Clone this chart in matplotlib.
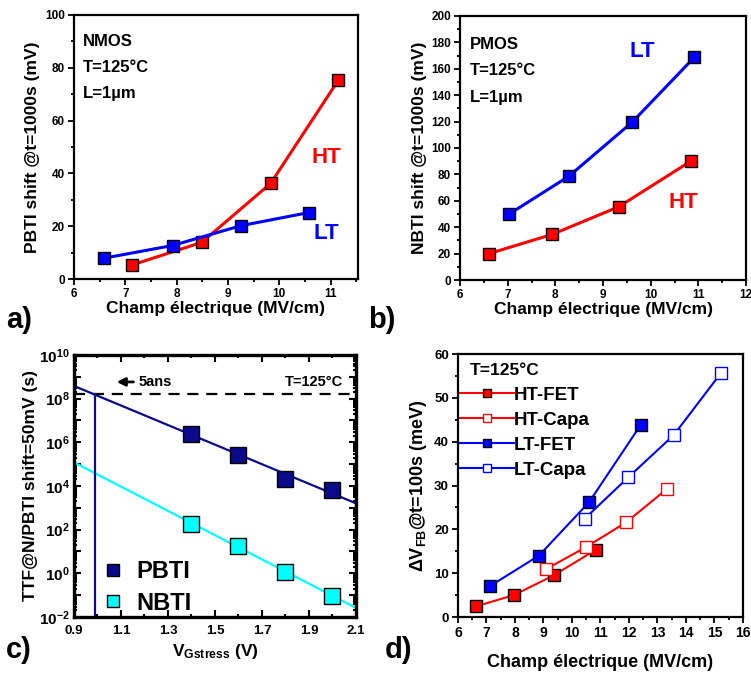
import numpy as np
import matplotlib
matplotlib.use('Agg')
import matplotlib.pyplot as plt
from matplotlib.lines import Line2D
from matplotlib.ticker import MultipleLocator, LogLocator, FuncFormatter, NullFormatter

plt.rcParams['font.family'] = ['Liberation Sans', 'DejaVu Sans']
plt.rcParams['font.weight'] = 'bold'
plt.rcParams['axes.labelweight'] = 'bold'
plt.rcParams['mathtext.fontset'] = 'custom'
plt.rcParams['mathtext.rm'] = 'Liberation Sans:bold'
plt.rcParams['mathtext.bf'] = 'Liberation Sans:bold'
plt.rcParams['mathtext.default'] = 'bf'

# a) NMOS PBTI shift
a_ht_x = [7.14, 8.49, 9.83, 11.15]
a_ht_y = [5.4, 13.9, 36.2, 75.3]
a_lt_x = [6.58, 7.92, 9.25, 10.58]
a_lt_y = [7.9, 12.7, 20.2, 25.2]

# b) PMOS NBTI shift
b_lt_x = [7.02, 8.28, 9.61, 10.91]
b_lt_y = [49.7, 78.5, 119.5, 168.5]
b_ht_x = [6.6, 7.93, 9.33, 10.84]
b_ht_y = [19.9, 34.5, 55.5, 90.0]

# c) TTF vs V_Gstress
c_v = [1.4, 1.6, 1.8, 2.0]
c_pbti = [2.3e6, 2.6e5, 2.0e4, 6.2e3]
c_nbti = [186, 17, 1.2, 0.095]
c_fit_v = [0.9, 2.1]
c_pbti_fit = [3.8e8, 1.6e3]
c_nbti_fit = [1.2e5, 0.026]
five_years = 1.58e8
v_5ans = 0.99

# d) delta VFB @ t=100s
d_htfet_x = [6.62, 7.96, 9.36, 10.85]
d_htfet_y = [2.4, 5.0, 9.5, 15.4]
d_htcapa_x = [9.08, 10.48, 11.9, 13.33]
d_htcapa_y = [10.9, 15.9, 21.6, 29.2]
d_ltfet_x = [7.11, 8.84, 10.6, 12.42]
d_ltfet_y = [7.0, 14.0, 26.2, 43.9]
d_ltcapa_x = [10.44, 11.98, 13.57, 15.22]
d_ltcapa_y = [22.4, 31.9, 41.5, 55.6]

RED = '#ff0000'
BLUE = '#0000ff'
NAVY = '#0a0a8a'
CYAN = '#00ffff'

fig = plt.figure(figsize=(7.51, 6.79), dpi=100)
ax_a = fig.add_axes([0.0985, 0.589, 0.378, 0.389])
ax_b = fig.add_axes([0.6125, 0.5876, 0.381, 0.389])
ax_c = fig.add_axes([0.0985, 0.0913, 0.3755, 0.386])
ax_d = fig.add_axes([0.6098, 0.0913, 0.3795, 0.3873])


def style_lin(ax):
    for s in ax.spines.values():
        s.set_linewidth(1.6)
    ax.tick_params(which='both', direction='out', width=1.3, labelsize=8.5,
                   top=False, right=False)
    ax.tick_params(which='major', length=4.5, pad=2)
    ax.tick_params(which='minor', length=2.5)
    for lab in ax.get_xticklabels() + ax.get_yticklabels():
        lab.set_fontweight('bold')


mk = dict(marker='s', markersize=8, markeredgecolor='black', markeredgewidth=1.0)

# ---- a)
ax_a.plot(a_ht_x, a_ht_y, color=RED, lw=2.2, markerfacecolor=RED, **mk)
ax_a.plot(a_lt_x, a_lt_y, color=BLUE, lw=2.2, markerfacecolor=BLUE, **mk)
ax_a.set_xlim(6, 11.53)
ax_a.set_ylim(0, 100)
ax_a.xaxis.set_major_locator(MultipleLocator(1))
ax_a.xaxis.set_minor_locator(MultipleLocator(0.5))
ax_a.yaxis.set_major_locator(MultipleLocator(20))
ax_a.yaxis.set_minor_locator(MultipleLocator(10))
style_lin(ax_a)
ax_a.set_xlabel('Champ électrique (MV/cm)', fontsize=12.5, labelpad=1)
ax_a.set_ylabel('PBTI shift @t=1000s (mV)', fontsize=12.5, labelpad=4)
for i, t in enumerate(['NMOS', 'T=125°C', 'L=1µm']):
    ax_a.text(0.03, 0.899 - 0.098 * i, t, transform=ax_a.transAxes,
              fontsize=12, fontweight='bold', va='center')
ax_a.text(10.92, 46, 'HT', color=RED, fontsize=16, fontweight='bold',
          ha='center', va='center')
ax_a.text(10.92, 17.4, 'LT', color=BLUE, fontsize=16, fontweight='bold',
          ha='center', va='center')

# ---- b)
ax_b.plot(b_lt_x, b_lt_y, color=BLUE, lw=2.2, markerfacecolor=BLUE, **mk)
ax_b.plot(b_ht_x, b_ht_y, color=RED, lw=2.2, markerfacecolor=RED, **mk)
ax_b.set_xlim(6, 12)
ax_b.set_ylim(0, 200)
ax_b.xaxis.set_major_locator(MultipleLocator(1))
ax_b.xaxis.set_minor_locator(MultipleLocator(0.5))
ax_b.yaxis.set_major_locator(MultipleLocator(20))
ax_b.yaxis.set_minor_locator(MultipleLocator(10))
style_lin(ax_b)
ax_b.set_xlabel('Champ électrique (MV/cm)', fontsize=12.5, labelpad=1)
ax_b.set_ylabel('NBTI shift @t=1000s (mV)', fontsize=12.5, labelpad=3)
for i, t in enumerate(['PMOS', 'T=125°C', 'L=1µm']):
    ax_b.text(0.035, 0.893 - 0.101 * i, t, transform=ax_b.transAxes,
              fontsize=12, fontweight='bold', va='center')
ax_b.text(9.82, 173, 'LT', color=BLUE, fontsize=16, fontweight='bold',
          ha='center', va='center')
ax_b.text(10.69, 59, 'HT', color=RED, fontsize=16, fontweight='bold',
          ha='center', va='center')

# ---- c)
ax_c.set_yscale('log')
ax_c.plot(c_fit_v, c_pbti_fit, color=NAVY, lw=1.6)
ax_c.plot(c_fit_v, c_nbti_fit, color=CYAN, lw=1.6)
ax_c.plot(c_v, c_pbti, ls='none', marker='s', markersize=12, markerfacecolor=NAVY,
          markeredgecolor='black', markeredgewidth=1.0, label='PBTI')
ax_c.plot(c_v, c_nbti, ls='none', marker='s', markersize=12, markerfacecolor=CYAN,
          markeredgecolor='black', markeredgewidth=1.0, label='NBTI')
ax_c.axhline(five_years, color='black', lw=1.6, ls=(0, (5, 3.5)))
ax_c.plot([v_5ans, v_5ans], [1e-2, five_years], color=NAVY, lw=1.6)
ax_c.annotate('', xy=(1.07, 5.8e8), xytext=(1.165, 5.8e8),
              arrowprops=dict(arrowstyle='-|>', color='black', lw=2,
                              mutation_scale=12))
ax_c.text(1.175, 5.8e8, '5ans', fontsize=10.5, fontweight='bold', va='center')
ax_c.text(0.955, 0.897, 'T=125°C', transform=ax_c.transAxes, fontsize=10.5,
          fontweight='bold', ha='right', va='center')
ax_c.set_xlim(0.9, 2.1)
ax_c.set_ylim(1e-2, 1e10)
ax_c.xaxis.set_minor_locator(MultipleLocator(0.1))
ax_c.set_xticks([0.9, 1.1, 1.3, 1.5, 1.7, 1.9, 2.1])
ax_c.yaxis.set_major_locator(LogLocator(base=10, numticks=30))
ax_c.yaxis.set_minor_locator(LogLocator(base=10, subs=np.arange(2, 10), numticks=30))
ax_c.yaxis.set_minor_formatter(NullFormatter())


def even_pow(v, pos):
    e = int(round(np.log10(v)))
    return r'$10^{%d}$' % e if e % 2 == 0 else ''


ax_c.yaxis.set_major_formatter(FuncFormatter(even_pow))
for s in ax_c.spines.values():
    s.set_linewidth(2.4)
ax_c.tick_params(which='both', direction='in', top=True, right=True,
                 width=1.5, pad=3)
ax_c.tick_params(axis='y', labelsize=11)
ax_c.tick_params(axis='x', labelsize=9.5, pad=6)
ax_c.tick_params(which='major', length=5)
ax_c.tick_params(which='minor', length=2.5)
for lab in ax_c.get_xticklabels():
    lab.set_fontweight('bold')
ax_c.set_xlabel(r'V$_{\mathrm{Gstress}}$ (V)', fontsize=12.5, labelpad=3)
ax_c.set_ylabel('TTF@N/PBTI shift=50mV (s)', fontsize=12.5, labelpad=1)
ax_c.legend(loc='center left', bbox_to_anchor=(0.105, 0.113), frameon=False,
            markerscale=0.75, handlelength=0.8, handletextpad=0.6,
            labelspacing=0.35, borderaxespad=0.0, borderpad=0.0,
            prop={'weight': 'bold', 'size': 17})

# ---- d)
mkd = dict(marker='s', markersize=8, markeredgewidth=1.0)
ax_d.plot(d_htfet_x, d_htfet_y, color=RED, lw=1.5, markerfacecolor=RED,
          markeredgecolor='black', label='HT-FET', **mkd)
ax_d.plot(d_htcapa_x, d_htcapa_y, color=RED, lw=1.5, markerfacecolor='white',
          markeredgecolor=RED, label='HT-Capa', **mkd)
ax_d.plot(d_ltfet_x, d_ltfet_y, color=BLUE, lw=1.5, markerfacecolor=BLUE,
          markeredgecolor='black', label='LT-FET', **mkd)
ax_d.plot(d_ltcapa_x, d_ltcapa_y, color=BLUE, lw=1.5, markerfacecolor='white',
          markeredgecolor=BLUE, label='LT-Capa', **mkd)
ax_d.set_xlim(6, 16)
ax_d.set_ylim(0, 60)
ax_d.xaxis.set_major_locator(MultipleLocator(1))
ax_d.xaxis.set_minor_locator(MultipleLocator(0.5))
ax_d.yaxis.set_major_locator(MultipleLocator(10))
ax_d.yaxis.set_minor_locator(MultipleLocator(5))
style_lin(ax_d)
ax_d.tick_params(axis='x', labelsize=10)
ax_d.tick_params(axis='y', labelsize=9.5)
ax_d.set_xlabel('Champ électrique (MV/cm)', fontsize=13, labelpad=10)
ax_d.set_ylabel(r'$\Delta$V$_{FB}$@t=100s (meV)', fontsize=13, labelpad=4)
ax_d.text(0.04, 0.939, 'T=125°C', transform=ax_d.transAxes, fontsize=12.5,
          fontweight='bold', va='center')
leg_handles = [Line2D([], [], color=RED, lw=1.5, markerfacecolor=RED,
                      markeredgecolor='black', markersize=6, marker='s'),
               Line2D([], [], color=RED, lw=1.5, markerfacecolor='white',
                      markeredgecolor=RED, markersize=6, marker='s'),
               Line2D([], [], color=BLUE, lw=1.5, markerfacecolor=BLUE,
                      markeredgecolor='black', markersize=6, marker='s'),
               Line2D([], [], color=BLUE, lw=1.5, markerfacecolor='white',
                      markeredgecolor=BLUE, markersize=6, marker='s')]
ax_d.legend(leg_handles, ['HT-FET', 'HT-Capa', 'LT-FET', 'LT-Capa'],
            loc='upper left', bbox_to_anchor=(-0.02, 0.905), frameon=False,
            handlelength=2.9, handletextpad=0.0, labelspacing=0.42,
            borderaxespad=0.0, prop={'weight': 'bold', 'size': 13.5})

# panel letters
for x, y, t in [(0.008, 0.528, 'a)'), (0.49, 0.528, 'b)'),
                (0.008, 0.042, 'c)'), (0.512, 0.042, 'd)')]:
    fig.text(x, y, t, fontsize=21, fontweight='bold', va='center')

fig.savefig('out.png', dpi=100)
